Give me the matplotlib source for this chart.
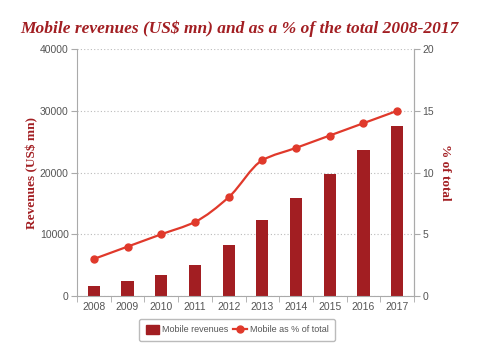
import numpy as np
import matplotlib
matplotlib.use("Agg")
import matplotlib.pyplot as plt
from matplotlib.path import Path
import matplotlib.patches as mpatches
from matplotlib.lines import Line2D

# data
years = ["2008", "2009", "2010", "2011", "2012", "2013", "2014", "2015", "2016", "2017"]
revenues = [1600, 2400, 3400, 5000, 8200, 12300, 15900, 19700, 23600, 27500]
pct_total = [3, 4, 5, 6, 8, 11, 12, 13, 14, 15]

bar_col = "#a21e22"
line_col = "#e0392b"
title_col = "#a21e22"
grey = "#aaaaaa"
txt = "#555555"

plt.rcParams["font.family"] = ["Liberation Sans", "DejaVu Sans"]

fig = plt.figure(figsize=(5, 3.46), dpi=100)
ax = fig.add_axes([0.154, 0.1445, 0.674, 0.7135])
x = np.arange(len(years))
ax.bar(x, revenues, width=0.36, color=bar_col, zorder=2)
ax.set_xlim(-0.5, len(years) - 0.5)
ax.set_ylim(0, 40000)
ax.set_yticks([0, 10000, 20000, 30000, 40000])
ax.set_xticks(x)
ax.set_xticklabels(years)
ax.set_xticks(np.arange(len(years) + 1) - 0.5, minor=True)
ax.tick_params(axis="x", which="major", length=0, labelsize=7.5, labelcolor=txt, pad=4)
ax.tick_params(axis="x", which="minor", length=4, color=grey)
ax.tick_params(axis="y", length=4, color=grey, labelsize=7.5, labelcolor=txt, pad=2)
ax.grid(axis="y", linestyle=(0, (1, 2)), color="#bbbbbb", linewidth=0.8, zorder=0)
ax.spines["top"].set_visible(False)
for s in ["left", "right", "bottom"]:
    ax.spines[s].set_color(grey)
ax.set_ylabel("Revenues (US$ mn)", family="Liberation Serif", fontweight="bold",
              color=title_col, fontsize=9.5, labelpad=1)

ax2 = ax.twinx()
ax2.set_ylim(0, 20)
ax2.set_yticks([0, 5, 10, 15, 20])
ax2.tick_params(axis="y", length=4, color=grey, labelsize=7.5, labelcolor=txt, pad=2)
for s in ["top", "left", "bottom"]:
    ax2.spines[s].set_visible(False)
ax2.spines["right"].set_color(grey)
ax2.set_ylabel("% of total", family="Liberation Serif", fontweight="bold",
               color=title_col, fontsize=9.5, rotation=270, labelpad=12)

# smooth line through the points with bezier segments (monotone tangents)
xs = x.astype(float)
ys = np.array(pct_total, dtype=float)
d = np.diff(ys)
m = np.zeros_like(ys)
m[0], m[-1] = d[0], d[-1]
for i in range(1, len(ys) - 1):
    if d[i - 1] * d[i] > 0:
        m[i] = 2 * d[i - 1] * d[i] / (d[i - 1] + d[i])
verts = [(xs[0], ys[0])]
codes = [Path.MOVETO]
for i in range(len(ys) - 1):
    verts += [(xs[i] + 1 / 3, ys[i] + m[i] / 3),
              (xs[i + 1] - 1 / 3, ys[i + 1] - m[i + 1] / 3),
              (xs[i + 1], ys[i + 1])]
    codes += [Path.CURVE4] * 3
ax2.add_patch(mpatches.PathPatch(Path(verts, codes), fill=False,
                                 edgecolor=line_col, linewidth=1.6, zorder=3))
ax2.plot(xs, ys, "o", color=line_col, markersize=5, zorder=4)

fig.text(0.04, 0.905, "Mobile revenues (US$ mn) and as a % of the total 2008-2017",
         family="Liberation Serif", fontweight="bold", style="italic",
         color=title_col, fontsize=12.5)

handles = [mpatches.Patch(color=bar_col, label="Mobile revenues"),
           Line2D([], [], color=line_col, marker="o", markersize=5, linewidth=1.6,
                  label="Mobile as % of total")]
leg = fig.legend(handles=handles, loc="center", bbox_to_anchor=(0.474, 0.047), ncol=2,
                 fontsize=6.5, frameon=True, fancybox=True, handlelength=1.5,
                 handleheight=1.1, columnspacing=0.6, handletextpad=0.3, borderpad=0.7)
leg.get_frame().set_edgecolor("#aaaaaa")
for t in leg.get_texts():
    t.set_color(txt)

fig.savefig("out.png", dpi=100)
